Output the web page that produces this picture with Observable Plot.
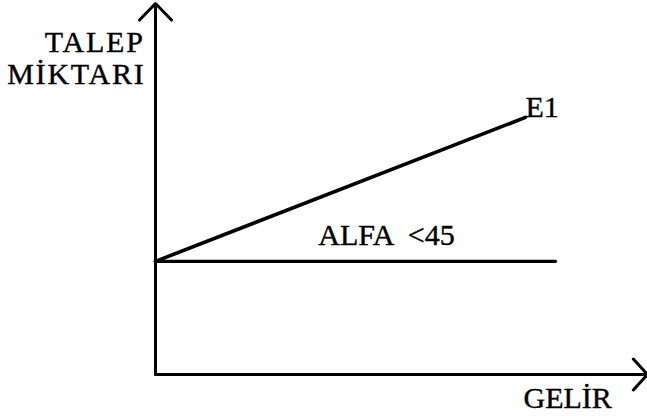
<!DOCTYPE html>
<html>
<head>
<meta charset="utf-8">
<script src="https://cdn.jsdelivr.net/npm/d3@7"></script>
<script src="https://cdn.jsdelivr.net/npm/@observablehq/plot@0.6"></script>
<style>
  html, body { margin: 0; padding: 0; background: #fff; }
  #chart svg text { font-family: "Liberation Serif", "Times New Roman", serif !important; }
</style>
</head>
<body>
<div id="chart"></div>
<script>
// Data (abstract units: GELİR on x, TALEP MİKTARI on y)
const e1Gelir = [0, 75.2];
const e1Talep = [30.5, 69.3];
const refGelir = [0, 81.3];
const refTalep = [30.5, 30.5];
const axisX = [0, 100];
const axisY = [0, 100];
const labelTexts = ["TALEP", "MİKTARI", "E1", "ALFA  <45", "GELİR"];
const labelX = [-2.2, -2.0, 75.2, 33.1, 74.8];
const labelY = [86.8, 78.4, 69.3, 34.8, -8.9];
const labelAnchor = ["end", "end", "start", "start", "start"];

const e1 = e1Gelir.map((x, i) => ({x, y: e1Talep[i]}));
const ref = refGelir.map((x, i) => ({x, y: refTalep[i]}));
const labels = labelTexts.map((t, i) => ({t, x: labelX[i], y: labelY[i], a: labelAnchor[i]}));

const chart = Plot.plot({
  width: 647,
  height: 416,
  marginLeft: 155,
  marginRight: 0,
  marginTop: 3,
  marginBottom: 42,
  x: {domain: axisX, axis: null},
  y: {domain: axisY, axis: null},
  style: {background: "#fff", overflow: "visible"},
  marks: [
    Plot.arrow([{x1: axisX[0], y1: axisY[0], x2: axisX[0], y2: axisY[1]}], {
      x1: "x1", y1: "y1", x2: "x2", y2: "y2",
      stroke: "black", strokeWidth: 3, headAngle: 88, headLength: 11.5
    }),
    Plot.arrow([{x1: axisX[0], y1: axisY[0], x2: axisX[1], y2: axisY[0]}], {
      x1: "x1", y1: "y1", x2: "x2", y2: "y2",
      stroke: "black", strokeWidth: 3, headAngle: 95, headLength: 10.5
    }),
    Plot.line(ref, {x: "x", y: "y", stroke: "black", strokeWidth: 3.2}),
    Plot.line(e1, {x: "x", y: "y", stroke: "black", strokeWidth: 3.6}),
    ...["end", "start"].map(a =>
      Plot.text(labels.filter(d => d.a === a), {
        x: "x", y: "y", text: "t",
        textAnchor: a, lineAnchor: "bottom",
        fontSize: 30, fill: "black", stroke: "black", strokeWidth: 0.4
      })
    )
  ]
});
// slightly wider tracking on the y-axis title lines, as in the scan
d3.select(chart).selectAll("text")
  .filter(function () { return this.textContent === "TALEP" || this.textContent === "MİKTARI"; })
  .style("letter-spacing", "1.8px");
document.getElementById("chart").appendChild(chart);
</script>
</body>
</html>
